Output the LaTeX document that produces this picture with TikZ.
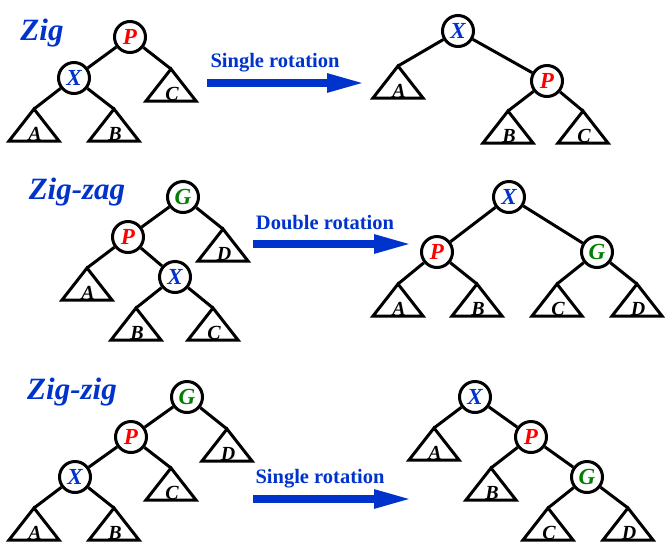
\documentclass[tikz,border=0pt]{standalone}
\usepackage{fontspec}
\setmainfont{Liberation Serif}
\usetikzlibrary{arrows.meta}
\definecolor{rotblue}{RGB}{0,51,204}
\definecolor{keyred}{RGB}{255,0,0}
\definecolor{keygreen}{RGB}{0,128,0}

\tikzset{
  keynode/.style={circle,draw=black,line width=3pt,fill=white,minimum size=31pt,inner sep=0pt,font=\fontsize{23}{23}\selectfont\bfseries\itshape},
  link/.style={line width=3pt},
  subtri/.style={line width=3pt},
  subname/.style={anchor=base,inner sep=0pt,font=\fontsize{20}{20}\selectfont\bfseries\itshape},
  casename/.style={text=rotblue,font=\fontsize{31}{31}\selectfont\bfseries\itshape},
  rotname/.style={text=rotblue,font=\fontsize{20.5}{20.5}\selectfont\bfseries},
  rotarrow/.style={draw=rotblue,line width=8pt,-{Triangle[length=39pt,width=17pt]}}
}
% subtree triangle: name, apex x, apex y, letter
\newcommand{\subtree}[4]{%
  \coordinate (#1) at (#2,#3);
  \draw[subtri] (#1) -- ++(-25,32) -- ++(50,0) -- cycle;
  \node[subname] (#1l) at (#2+1,#3+31) {#4};
}

\begin{document}
\begin{tikzpicture}[x=1pt,y=-1pt]
\useasboundingbox (0,0) rectangle (665,558);

% Zig
\node[casename] (zig) at (42,33) {Zig};
\node[keynode,text=keyred] (aP) at (130,37) {P};
\node[keynode,text=rotblue] (aX) at (74,78) {X};
\subtree{aA}{34}{109}{A}
\subtree{aB}{114}{109}{B}
\subtree{aC}{171}{69}{C}
\draw[link] (aP) -- (aX);
\draw[link] (aP) -- (aC);
\draw[link] (aX) -- (aA);
\draw[link] (aX) -- (aB);

\coordinate (r1s) at (207,83);
\coordinate (r1e) at (366,83);
\draw[rotarrow] (r1s) -- (r1e);
\node[rotname] (r1t) at (275,63) {Single rotation};

\node[keynode,text=rotblue] (bX) at (458,31) {X};
\node[keynode,text=keyred] (bP) at (547,81) {P};
\subtree{bA}{398}{66}{A}
\subtree{bB}{508}{111}{B}
\subtree{bC}{583}{111}{C}
\draw[link] (bX) -- (bA);
\draw[link] (bX) -- (bP);
\draw[link] (bP) -- (bB);
\draw[link] (bP) -- (bC);

% Zig-zag
\node[casename] (zigzag) at (77,192) {Zig-zag};
\node[keynode,text=keygreen] (cG) at (183,197) {G};
\node[keynode,text=keyred] (cP) at (128,237) {P};
\node[keynode,text=rotblue] (cX) at (175,277) {X};
\subtree{cA}{87}{268}{A}
\subtree{cB}{136}{308}{B}
\subtree{cC}{213}{308}{C}
\subtree{cD}{223}{229}{D}
\draw[link] (cG) -- (cP);
\draw[link] (cG) -- (cD);
\draw[link] (cP) -- (cA);
\draw[link] (cP) -- (cX);
\draw[link] (cX) -- (cB);
\draw[link] (cX) -- (cC);

\coordinate (r2s) at (253,244);
\coordinate (r2e) at (413,244);
\draw[rotarrow] (r2s) -- (r2e);
\node[rotname] (r2t) at (325,223) {Double rotation};

\node[keynode,text=rotblue] (dX) at (509,197) {X};
\node[keynode,text=keyred] (dP) at (437,252) {P};
\node[keynode,text=keygreen] (dG) at (597,252) {G};
\subtree{dA}{398}{284}{A}
\subtree{dB}{477}{284}{B}
\subtree{dC}{557}{284}{C}
\subtree{dD}{637}{284}{D}
\draw[link] (dX) -- (dP);
\draw[link] (dX) -- (dG);
\draw[link] (dP) -- (dA);
\draw[link] (dP) -- (dB);
\draw[link] (dG) -- (dC);
\draw[link] (dG) -- (dD);

% Zig-zig
\node[casename] (zigzig) at (72,392) {Zig-zig};
\node[keynode,text=keygreen] (eG) at (187,397) {G};
\node[keynode,text=keyred] (eP) at (131,437) {P};
\node[keynode,text=rotblue] (eX) at (75,477) {X};
\subtree{eA}{34}{508}{A}
\subtree{eB}{114}{508}{B}
\subtree{eC}{171}{468}{C}
\subtree{eD}{227}{429}{D}
\draw[link] (eG) -- (eP);
\draw[link] (eG) -- (eD);
\draw[link] (eP) -- (eX);
\draw[link] (eP) -- (eC);
\draw[link] (eX) -- (eA);
\draw[link] (eX) -- (eB);

\coordinate (r3s) at (253,499);
\coordinate (r3e) at (413,499);
\draw[rotarrow] (r3s) -- (r3e);
\node[rotname] (r3t) at (320,479) {Single rotation};

\node[keynode,text=rotblue] (fX) at (475,397) {X};
\node[keynode,text=keyred] (fP) at (531,437) {P};
\node[keynode,text=keygreen] (fG) at (587,477) {G};
\subtree{fA}{434}{428}{A}
\subtree{fB}{491}{468}{B}
\subtree{fC}{548}{508}{C}
\subtree{fD}{628}{508}{D}
\draw[link] (fX) -- (fA);
\draw[link] (fX) -- (fP);
\draw[link] (fP) -- (fB);
\draw[link] (fP) -- (fG);
\draw[link] (fG) -- (fC);
\draw[link] (fG) -- (fD);
\end{tikzpicture}
\end{document}
